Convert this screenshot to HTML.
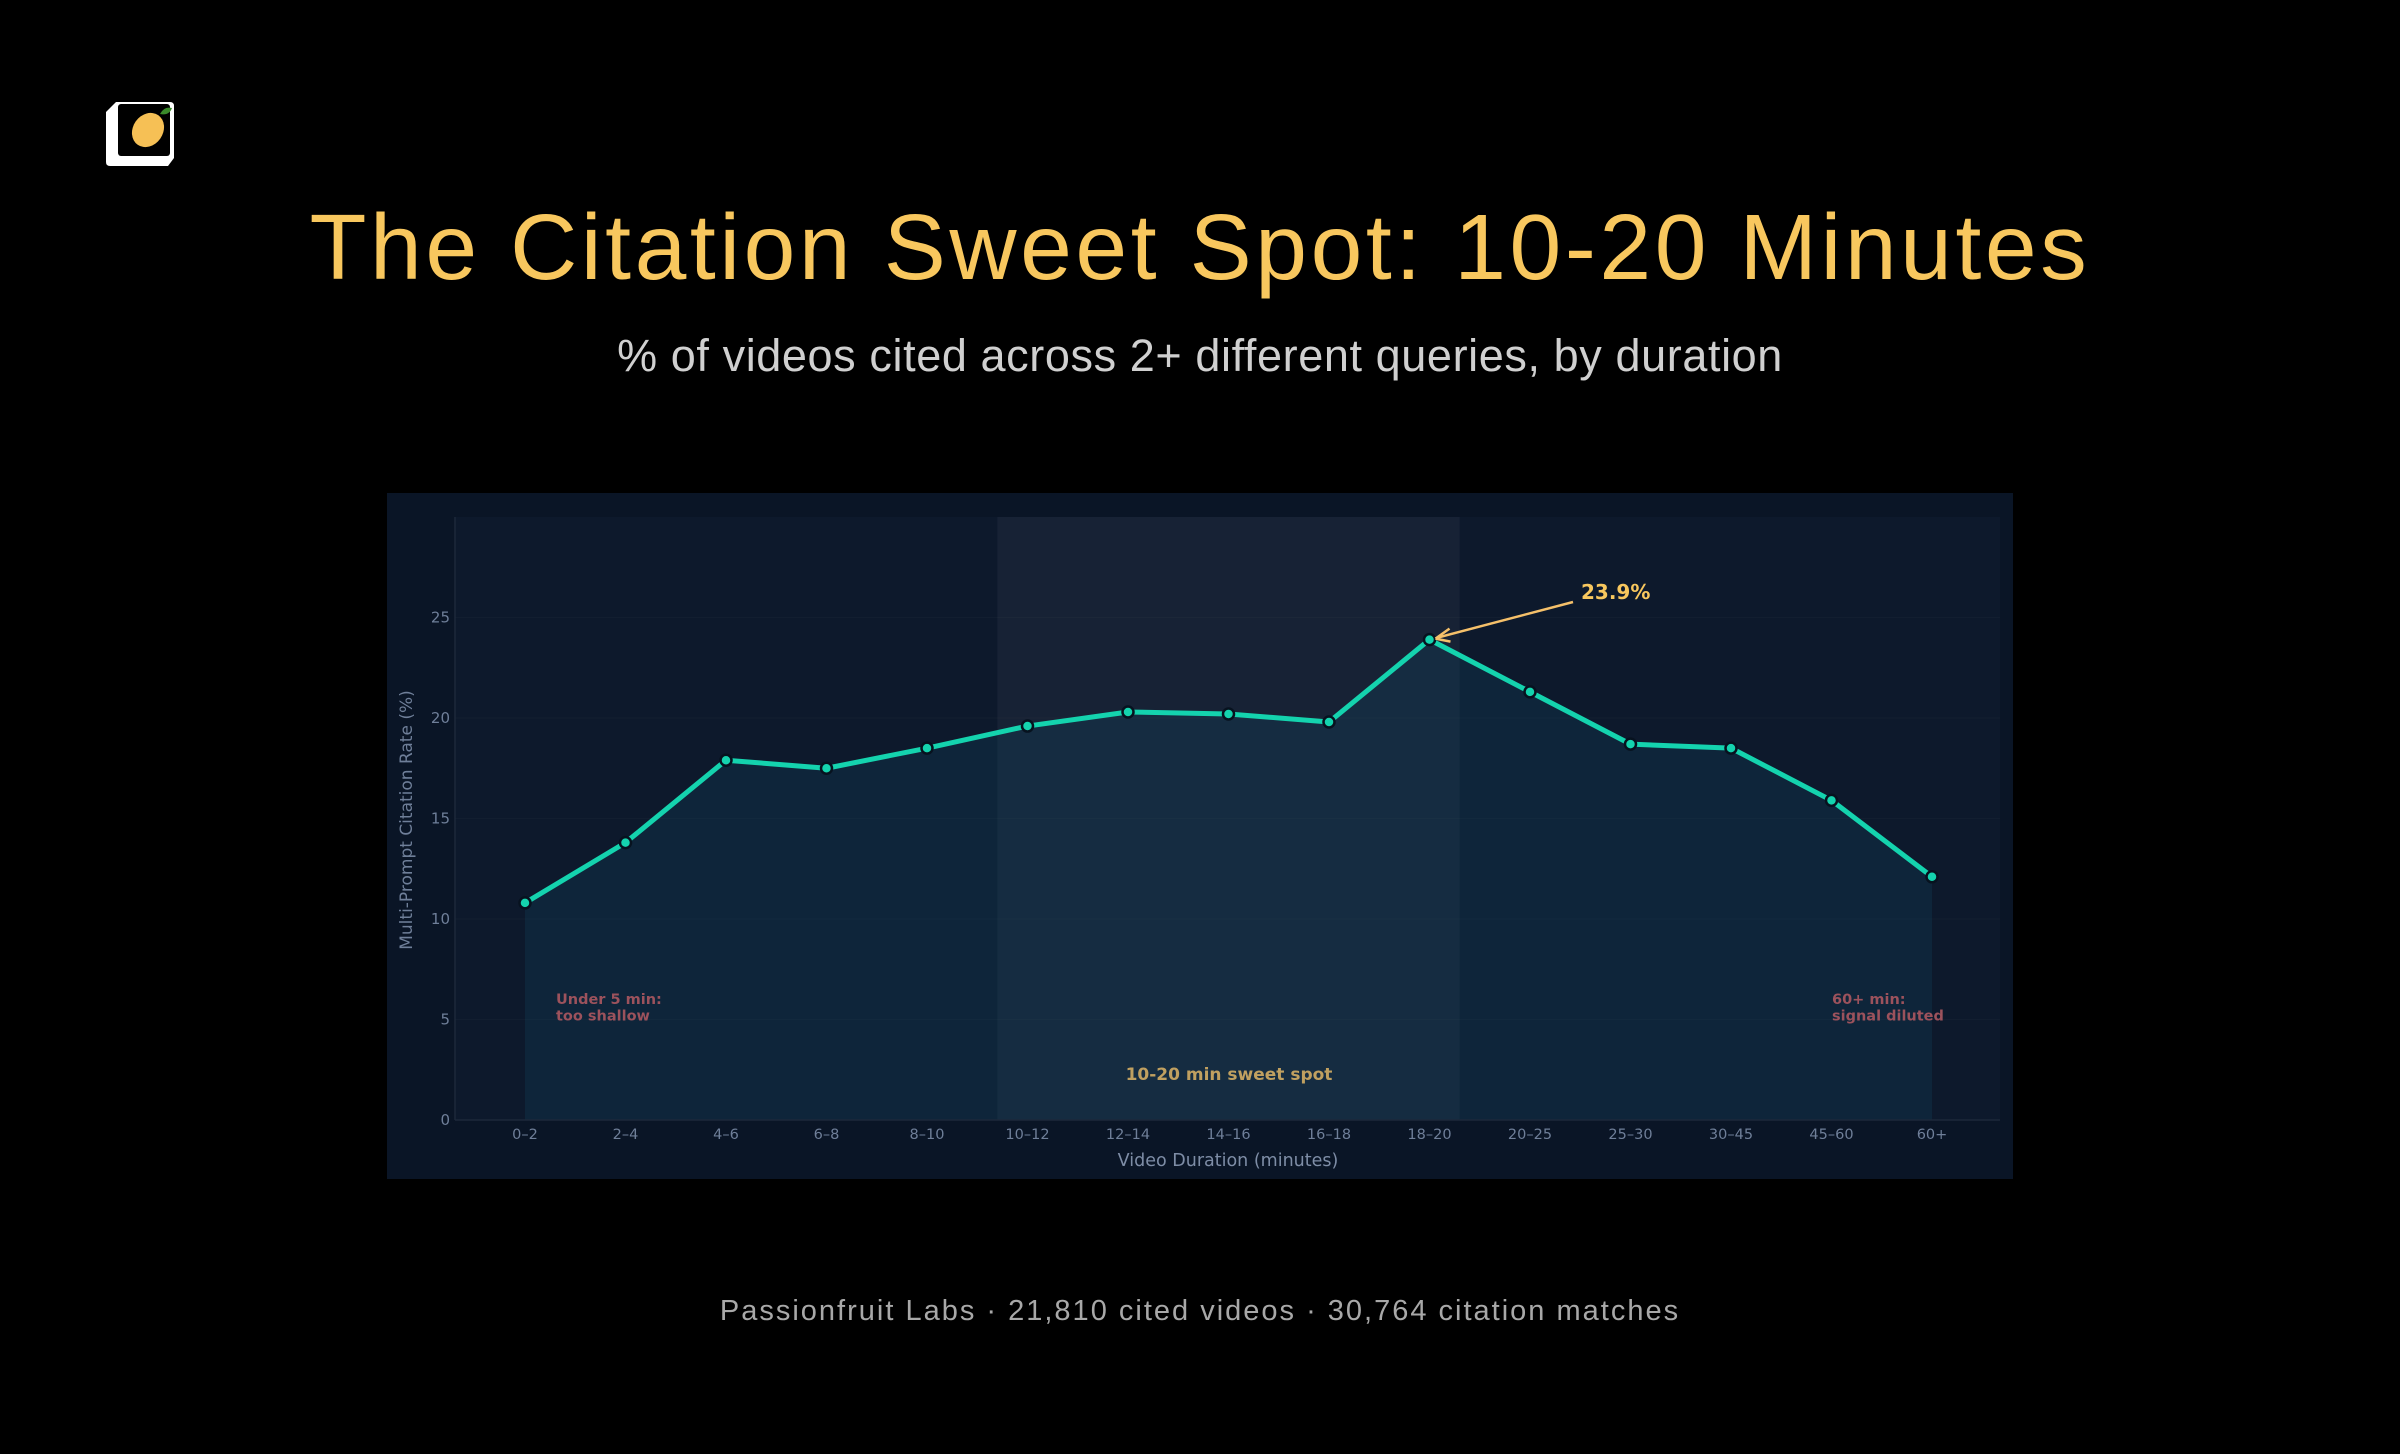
<!DOCTYPE html>
<html><head><meta charset="utf-8"><style>
html,body{margin:0;padding:0;background:#000;}
body{width:2400px;height:1454px;position:relative;overflow:hidden;font-family:"Liberation Sans",sans-serif;}
#title{position:absolute;left:0;width:2400px;top:194px;text-align:center;color:#f8c75e;font-size:93px;letter-spacing:3.6px;}
#subtitle{position:absolute;left:0;width:2400px;top:330px;text-align:center;color:#d0d0d0;font-size:45px;letter-spacing:0.6px;}
#footer{position:absolute;left:0;width:2400px;top:1295px;text-align:center;color:#a8a8a8;font-size:29px;letter-spacing:2px;}
svg text{font-family:"DejaVu Sans",sans-serif;}
</style></head><body>
<svg style="position:absolute;left:104px;top:98px" width="78" height="70" viewBox="0 0 78 70">
<path d="M12 4 H66 Q70 4 70 8 V60 L64 68 H6 Q2 68 2 64 V14 Z" fill="#fff"/>
<rect x="14" y="6" width="52" height="52" rx="3" fill="#000"/>
<ellipse cx="44" cy="32" rx="15" ry="18" transform="rotate(35 44 32)" fill="#f6c055"/>
<path d="M56 16 q4 -8 12 -6 q-3 8 -12 6Z" fill="#3a8a2a"/>
</svg>
<div id="title">The Citation Sweet Spot: 10-20 Minutes</div>
<div id="subtitle">% of videos cited across 2+ different queries, by duration</div>
<svg id="chart" style="position:absolute;left:0;top:0" width="2400" height="1454"></svg>
<div id="footer">Passionfruit Labs · 21,810 cited videos · 30,764 citation matches</div>
<script>
const categories=["0–2","2–4","4–6","6–8","8–10","10–12","12–14","14–16","16–18","18–20","20–25","25–30","30–45","45–60","60+"];
const values=[10.8,13.8,17.9,17.5,18.5,19.6,20.3,20.2,19.8,23.9,21.3,18.7,18.5,15.9,12.1];
const yTicks=[0,5,10,15,20,25];
const peakLabel="23.9%";
const NS="http://www.w3.org/2000/svg";
const svg=document.getElementById('chart');
function mk(t,a,p){const e=document.createElementNS(NS,t);for(const k in a)e.setAttribute(k,a[k]);(p||svg).appendChild(e);return e;}
const L=455,R=2000,T=517,B=1120,YMAX=30;
const x0=525,dx=(1932-525)/(categories.length-1);
const X=i=>x0+i*dx, Y=v=>B-(v/YMAX)*(B-T);
let e;
e=mk('rect',{x:387,y:493,width:1626,height:686,fill:'#0a1526'});

e=mk('rect',{x:L,y:T,width:R-L,height:B-T,fill:'#0d192c'});

yTicks.forEach(v=>{
 e=mk('line',{x1:L,x2:R,y1:Y(v),y2:Y(v),stroke:'#121e30','stroke-width':1});
 
 e=mk('text',{x:L-5,y:Y(v)+5,'text-anchor':'end','font-size':15,fill:'#6f7f99'});e.textContent=v;
 
});
e=mk('rect',{x:X(4.7),y:T,width:X(9.3)-X(4.7),height:B-T,fill:'rgba(255,255,255,0.045)'});

let d='M'+X(0)+','+B;values.forEach((v,i)=>d+=' L'+X(i)+','+Y(v));d+=' L'+X(values.length-1)+','+B+'Z';
e=mk('path',{d:d,fill:'rgba(20,80,110,0.22)'});

e=mk('line',{x1:L,x2:R,y1:B,y2:B,stroke:'#1c283a','stroke-width':1.5});

e=mk('line',{x1:L,x2:L,y1:T,y2:B,stroke:'#1c283a','stroke-width':1.5});

e=mk('polyline',{points:values.map((v,i)=>X(i)+','+Y(v)).join(' '),fill:'none',stroke:'#14d3ae','stroke-width':5,'stroke-linejoin':'round'});

values.forEach((v,i)=>{
 e=mk('circle',{cx:X(i),cy:Y(v),r:5.5,fill:'#14d3ae',stroke:'#07121f','stroke-width':2.5});
 
});
categories.forEach((c,i)=>{
 e=mk('text',{x:X(i),y:B+19,'text-anchor':'middle','font-size':14.5,fill:'#6f7f99'});e.textContent=c;
 
});
e=mk('text',{x:1228,y:1166,'text-anchor':'middle','font-size':17.5,fill:'#7e8da6'});e.textContent='Video Duration (minutes)';

e=mk('text',{x:412,y:820,'text-anchor':'middle','font-size':17,fill:'#6f7f99',transform:'rotate(-90 412 820)'});e.textContent='Multi-Prompt Citation Rate (%)';

const pk=values.indexOf(Math.max(...values));
const px=X(pk),py=Y(values[pk]);
e=mk('line',{x1:1573,y1:602,x2:px+8,y2:py-2,stroke:'#f5c06a','stroke-width':2.5});

e=mk('path',{d:`M${px+6},${py-1} l14,-10 M${px+6},${py-1} l15,3`,stroke:'#f5c06a','stroke-width':2.5,fill:'none'});

e=mk('text',{x:1581,y:599,'font-size':20,'font-weight':'bold',fill:'#f8c75e'});e.textContent=peakLabel;

function note(x,y,lines,name,anchor,col,fs){lines.forEach((t,k)=>{e=mk('text',{x:x,y:y+k*fs*1.15,'font-size':fs,'font-weight':'bold',fill:col,'text-anchor':anchor||'start'});e.textContent=t;
 });}
note(556,1004,['Under 5 min:','too shallow'],'short-video-note','start','#9c525c',14.5);
note(1832,1004,['60+ min:','signal diluted'],'long-video-note','start','#9c525c',14.5);
note(1229,1080,['10-20 min sweet spot'],'sweet-spot-label','middle','#c0a060',17);
</script>
</body></html>
